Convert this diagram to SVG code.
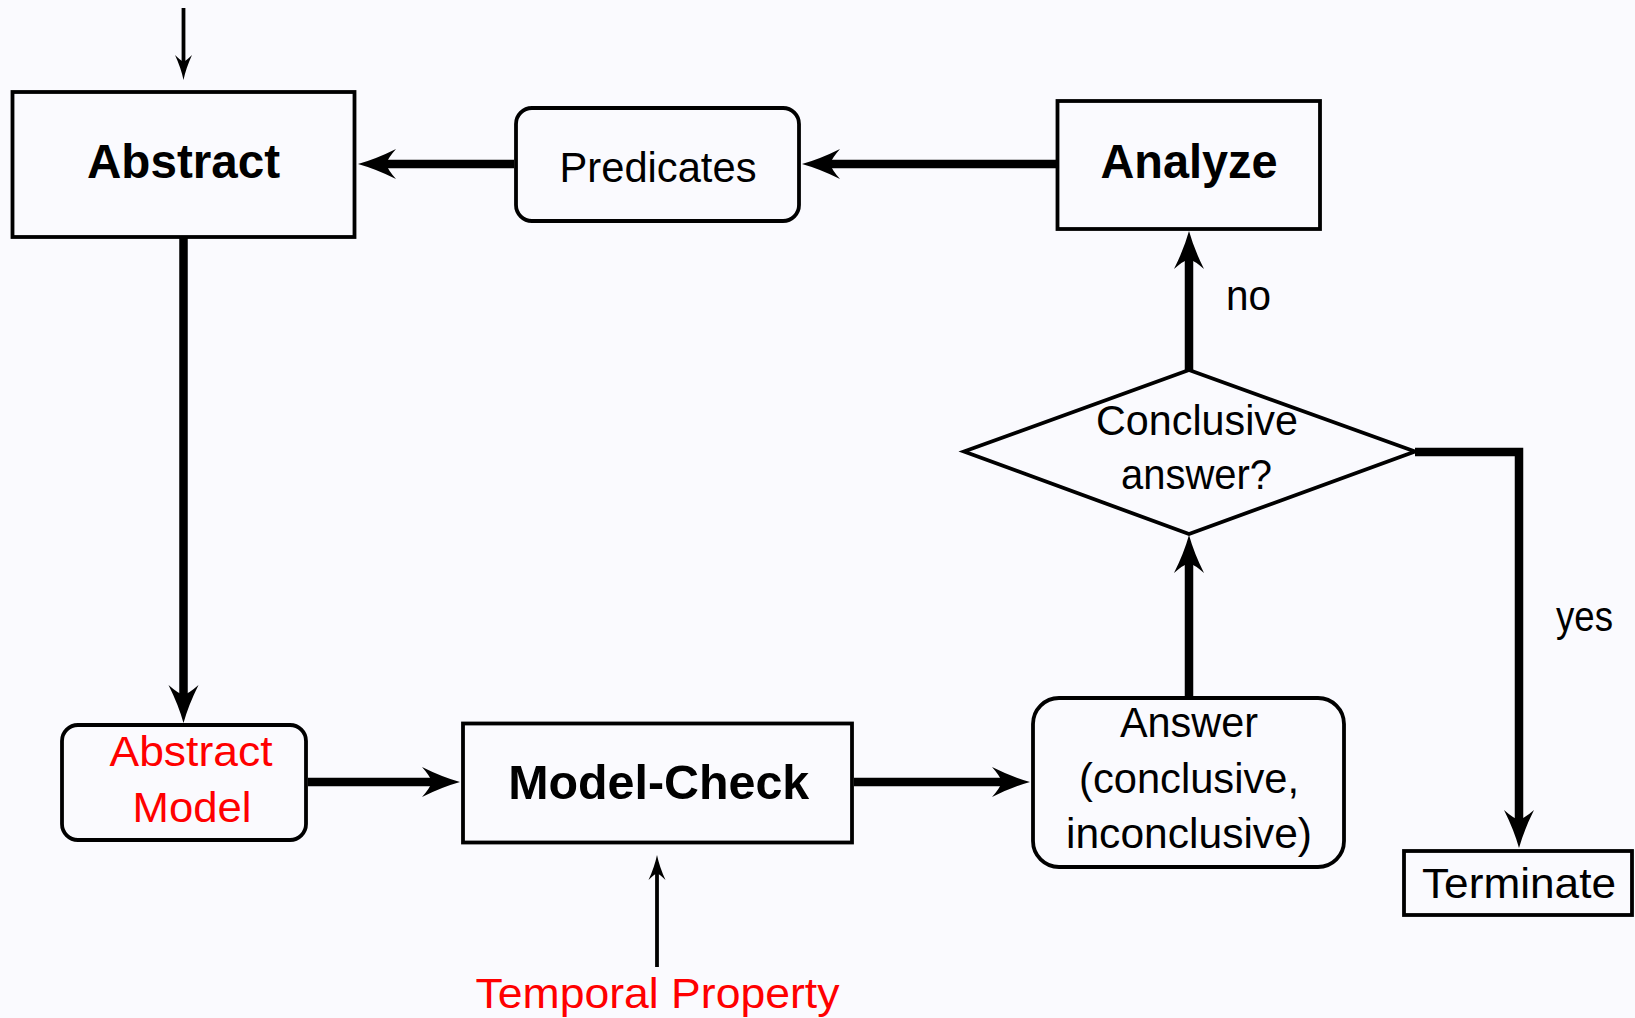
<svg xmlns="http://www.w3.org/2000/svg" width="1635" height="1018" viewBox="0 0 1635 1018">
<defs>
<style>
.bg{fill:#fafafe}
.box{fill:none;stroke:#000;stroke-width:3.8}
.t{font-family:"Liberation Sans",Arial,sans-serif;font-size:43px;fill:#000;text-anchor:middle}
.b{font-weight:bold;font-size:48px}
.red{fill:#ff0000}
.thick{fill:none;stroke:#000;stroke-width:8.5;stroke-linejoin:miter}
.thin{fill:none;stroke:#000;stroke-width:3.8}
</style>
<marker id="ah" markerUnits="userSpaceOnUse" markerWidth="40" markerHeight="32" refX="10" refY="15" orient="auto" overflow="visible">
<path d="M38,15 Q20,10 0,0 Q8,9 10,15 Q8,21 0,30 Q20,20 38,15 Z" fill="#000"/>
</marker>
<marker id="ahs" markerUnits="userSpaceOnUse" markerWidth="26" markerHeight="18" refX="7" refY="8.5" orient="auto" overflow="visible">
<path d="M25,8.5 Q13,6 0,0 Q5,5 7,8.5 Q5,12 0,17 Q13,11 25,8.5 Z" fill="#000"/>
</marker>
</defs>
<rect class="bg" x="0" y="0" width="1635" height="1018"/>
<g id="connectors">
<line class="thin" x1="183.5" y1="8" x2="183.5" y2="62" marker-end="url(#ahs)"/>
<line class="thick" x1="514" y1="164" x2="386" y2="164" marker-end="url(#ah)"/>
<line class="thick" x1="1056" y1="164" x2="830" y2="164" marker-end="url(#ah)"/>
<line class="thick" x1="183.5" y1="238" x2="183.5" y2="695" marker-end="url(#ah)"/>
<line class="thick" x1="308" y1="782" x2="432" y2="782" marker-end="url(#ah)"/>
<line class="thick" x1="854" y1="782" x2="1002" y2="782" marker-end="url(#ah)"/>
<line class="thick" x1="1189" y1="696" x2="1189" y2="563" marker-end="url(#ah)"/>
<line class="thick" x1="1189" y1="370" x2="1189" y2="259" marker-end="url(#ah)"/>
<polyline class="thick" points="1415,452 1519,452 1519,820" marker-end="url(#ah)"/>
<line class="thin" x1="657" y1="967" x2="657" y2="873" marker-end="url(#ahs)"/>
<text class="t" x="1226" y="310" style="text-anchor:start" textLength="45" lengthAdjust="spacingAndGlyphs">no</text>
<text class="t" x="1556" y="631" style="text-anchor:start" textLength="57" lengthAdjust="spacingAndGlyphs">yes</text>
</g>
<g id="abstract">
<rect class="box" x="12.5" y="92" width="342" height="145"/>
<text class="t b" x="183.5" y="178" textLength="193" lengthAdjust="spacingAndGlyphs">Abstract</text>
</g>
<g id="predicates">
<rect class="box" x="516" y="108" width="283" height="113" rx="16"/>
<text class="t" x="658" y="182" textLength="197" lengthAdjust="spacingAndGlyphs">Predicates</text>
</g>
<g id="analyze">
<rect class="box" x="1057.5" y="101" width="262.5" height="128"/>
<text class="t b" x="1189" y="178" textLength="177" lengthAdjust="spacingAndGlyphs">Analyze</text>
</g>
<g id="decision">
<polygon class="box" points="964,451.5 1189,370 1415,451.5 1189,534"/>
<text class="t" x="1197" y="435" textLength="202" lengthAdjust="spacingAndGlyphs">Conclusive</text>
<text class="t" x="1196.5" y="489" textLength="151" lengthAdjust="spacingAndGlyphs">answer?</text>
</g>
<g id="abstract-model">
<rect class="box" x="62" y="725" width="244" height="115" rx="16"/>
<text class="t red" x="191" y="766" textLength="163" lengthAdjust="spacingAndGlyphs">Abstract</text>
<text class="t red" x="192" y="822" textLength="119" lengthAdjust="spacingAndGlyphs">Model</text>
</g>
<g id="model-check">
<rect class="box" x="463" y="723.5" width="389" height="119"/>
<text class="t b" x="658.7" y="799" textLength="301" lengthAdjust="spacingAndGlyphs">Model-Check</text>
</g>
<g id="answer">
<rect class="box" x="1033" y="698" width="311" height="169" rx="26"/>
<text class="t" x="1189" y="737" textLength="138" lengthAdjust="spacingAndGlyphs">Answer</text>
<text class="t" x="1189" y="793" textLength="220" lengthAdjust="spacingAndGlyphs">(conclusive,</text>
<text class="t" x="1189" y="848" textLength="246" lengthAdjust="spacingAndGlyphs">inconclusive)</text>
</g>
<g id="terminate">
<rect class="box" x="1404" y="851" width="228" height="64"/>
<text class="t" x="1519" y="898" textLength="194" lengthAdjust="spacingAndGlyphs">Terminate</text>
</g>
<g id="temporal-property">
<text class="t red" x="657.5" y="1008" textLength="364" lengthAdjust="spacingAndGlyphs">Temporal Property</text>
</g>
</svg>
